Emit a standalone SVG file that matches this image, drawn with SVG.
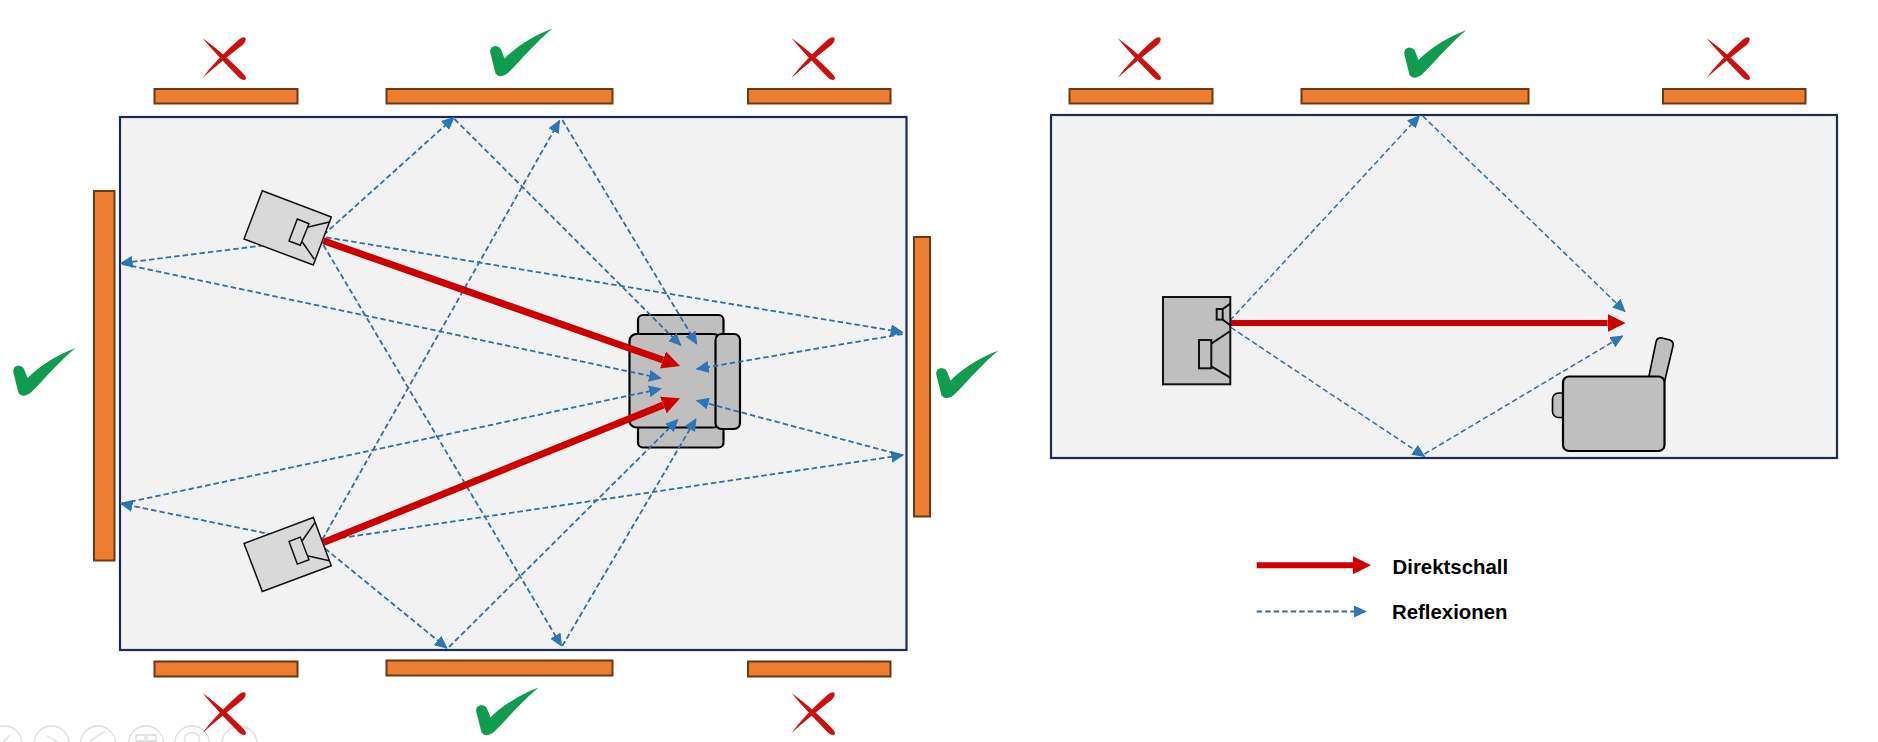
<svg xmlns="http://www.w3.org/2000/svg" xmlns:xlink="http://www.w3.org/1999/xlink" width="1878" height="742" viewBox="0 0 1878 742">
<style>
.room{fill:#F2F2F2;stroke:#1B2D55;stroke-width:2.2}
.panel{fill:#ED7D31;stroke:#6B3A14;stroke-width:2}
.cab{fill:#D9D9D9;stroke:#111;stroke-width:1.5;stroke-linejoin:miter}
.cab2{fill:#BFBFBF;stroke:#111;stroke-width:2}
.ln{fill:none;stroke:#111;stroke-width:1.5}
.ln2{fill:none;stroke:#111;stroke-width:2}
.seat{fill:#BFBFBF;stroke:#000;stroke-width:2.2}
.red{stroke:#CC0000;stroke-width:6;fill:none;marker-end:url(#redHead)}
.red.wide{stroke-width:7}
.blue{stroke:#2F6EAC;stroke-width:1.8;stroke-dasharray:5.5 3;fill:none;marker-end:url(#blueHead)}
.blue.fine{stroke-width:1.5}
.lbl{font-family:"Liberation Sans",Arial,sans-serif;font-weight:700;font-size:20.4px;fill:#000}
.tb{fill:none;stroke:#DCDCDC;stroke-width:1.3}
</style>
<defs>
<marker id="redHead" markerUnits="userSpaceOnUse" viewBox="0 0 18 18" refX="0" refY="9" markerWidth="18" markerHeight="18" orient="auto"><path d="M0 0L18 9L0 18z" fill="#CC0000"/></marker>
<marker id="blueHead" markerUnits="userSpaceOnUse" viewBox="0 0 13 12" refX="12" refY="6" markerWidth="13" markerHeight="12" orient="auto"><path d="M0 0L13 6L0 12z" fill="#2E75B6"/></marker>
<g id="cross" fill="#CC0F0F">
<path d="M0,2C14,12 30,26 42,39Q45,43 42,44Q38,44 34,39C22,27 10,14 0,2Z"/>
<path d="M0,42C8,31 22,16 37,3Q41,0 43,2Q44,5 40,9C26,20 12,31 0,42Z"/>
</g>
<path id="check" fill="#109C4F" d="M62,0C46,6 28,16 14,30C12,25 11,21 9,19Q5,16 1,19Q-1,22 0,25L5,45Q8,49 13,47Q16,46 18,44C32,30 45,14 62,0Z"/>
</defs>
<rect width="1878" height="742" fill="#FFFFFF"/>
<g id="toolbar">
<circle class="tb" cx="4.5" cy="743.5" r="17.5"/><circle class="tb" cx="51.5" cy="743.5" r="17.5"/><circle class="tb" cx="98" cy="743.5" r="17.5"/><circle class="tb" cx="146" cy="743.5" r="17.5"/><circle class="tb" cx="192" cy="743.5" r="17.5"/><circle class="tb" cx="239.5" cy="743.5" r="17.5"/>
<path class="tb" d="M10,735L3,742M47,736L58,742M90,741L105,731M136,735h9v6h-9zM147,735h9v6h-9zM139,742h16M185,742v-6q7,-7 14,0v6"/>
</g>
<g id="room-left"><rect class="room" x="120" y="117" width="786.5" height="533"/></g>
<g id="room-right"><rect class="room" x="1051" y="115" width="786" height="343"/></g>
<g id="panels">
<rect class="panel" x="154.5" y="89" width="143" height="14.5"/>
<rect class="panel" x="386.5" y="89" width="226" height="14.5"/>
<rect class="panel" x="748" y="89" width="142.5" height="14.5"/>
<rect class="panel" x="94" y="191" width="20.5" height="369.5"/>
<rect class="panel" x="914" y="237" width="16" height="279.5"/>
<rect class="panel" x="154.5" y="661.5" width="143" height="15"/>
<rect class="panel" x="386.5" y="660.5" width="226" height="15"/>
<rect class="panel" x="748" y="661.5" width="142.5" height="15"/>
<rect class="panel" x="1069.5" y="89" width="143" height="14.5"/>
<rect class="panel" x="1301.5" y="89" width="227" height="14.5"/>
<rect class="panel" x="1663" y="89" width="142.5" height="14.5"/>
</g>
<g id="marks">
<use href="#cross" x="202.5" y="36"/><use href="#check" x="490.5" y="28.5"/><use href="#cross" x="791.5" y="36"/>
<use href="#check" x="13.5" y="348"/><use href="#check" x="936.5" y="350.5"/>
<use href="#cross" x="202.5" y="691"/><use href="#check" x="476.5" y="687.5"/><use href="#cross" x="791.5" y="691"/>
<use href="#cross" x="1117.5" y="36"/><use href="#check" x="1404.5" y="30"/><use href="#cross" x="1706.5" y="36"/>
</g>
<g id="chair-left">
<rect class="seat" x="638" y="315" width="85.5" height="22" rx="5"/>
<rect class="seat" x="638" y="425" width="85.5" height="22.5" rx="5"/>
<rect class="seat" x="629.5" y="334" width="91" height="93.5" rx="7"/>
<rect class="seat" x="715.5" y="334" width="24.5" height="95" rx="6"/>
</g>
<g id="chair-right">
<path class="seat" style="stroke-width:1.6" d="M1648,381L1656,342Q1657,337 1662,338L1670,340Q1674,342 1673,346L1664,384Z"/>
<rect class="seat" style="stroke-width:1.6" x="1552.5" y="393" width="16" height="24.5" rx="6"/>
<rect class="seat" x="1563" y="376.5" width="101.5" height="74.5" rx="6"/>
</g>
<g id="connectors">
<line class="blue" x1="323.4" y1="235" x2="454" y2="117.5"/>
<line class="blue" x1="454.5" y1="119" x2="680.7" y2="345.3"/>
<line class="blue" x1="323.4" y1="245" x2="561.5" y2="646"/>
<line class="blue" x1="325" y1="548.5" x2="446.8" y2="648"/>
<line class="blue" x1="449" y1="647" x2="678" y2="419.5"/>
<line class="blue" x1="562.3" y1="646" x2="696" y2="418.8"/>
<line class="blue" x1="322.3" y1="539.5" x2="559.5" y2="120.7"/>
<line class="blue" x1="562.3" y1="120" x2="696.7" y2="344"/>
<line class="blue" x1="323" y1="238" x2="120.6" y2="263.3"/>
<line class="blue" x1="122.6" y1="264" x2="661" y2="378.3"/>
<line class="blue" x1="326" y1="237.3" x2="902.7" y2="332.3"/>
<line class="blue" x1="902.7" y1="334" x2="696.7" y2="369"/>
<line class="blue" x1="323" y1="545" x2="120.6" y2="503.5"/>
<line class="blue" x1="122" y1="503.5" x2="661" y2="388.8"/>
<line class="blue" x1="324" y1="540.5" x2="903.3" y2="455"/>
<line class="blue" x1="903" y1="455.5" x2="696.7" y2="400.5"/>
<line class="blue fine" x1="1230" y1="320.5" x2="1419.5" y2="115.7"/>
<line class="blue fine" x1="1422.7" y1="116" x2="1625" y2="311.5"/>
<line class="blue fine" x1="1231" y1="327.5" x2="1424.5" y2="456.5"/>
<line class="blue fine" x1="1424.5" y1="454" x2="1622.6" y2="336"/>
<line class="red wide" x1="323.4" y1="240.7" x2="663" y2="360"/>
<line class="red wide" x1="323.4" y1="542.5" x2="663.3" y2="405"/>
<line class="red" x1="1230" y1="323" x2="1607.6" y2="323"/>
</g>
<g id="speaker-top">
<path class="cab" d="M262.3,190.7L331.3,217L313.3,265L244,239Z"/>
<path class="cab" d="M297.3,219L309,223.7L300.3,245.3L289,241Z"/>
<path class="ln" d="M307.3,227.3L330.3,221.7M302.3,242L314.3,259.3"/>
</g>
<g id="speaker-bottom">
<path class="cab" d="M244,543.5L313.3,517.5L331.3,565.8L262.3,591.5Z"/>
<path class="cab" d="M289,541.5L300.3,537.1L309,559.8L297.3,564.1Z"/>
<path class="ln" d="M302.3,540.8L314.7,522.8M307.3,555.8L329.3,560.8"/>
</g>
<g id="speaker-right">
<rect class="cab2" x="1163" y="297" width="67.3" height="87.3"/>
<rect class="cab2" x="1216.7" y="309" width="6" height="10.6"/>
<rect class="cab2" x="1199" y="340" width="12.3" height="28.3"/>
<path class="ln2" d="M1222.7,309L1230.3,303.6M1222.7,319.6L1230.3,325.3M1211.3,343.6L1230.3,331M1211.3,366.3L1230.3,377.6"/>
</g>
<g id="legend">
<line class="red" x1="1256.7" y1="565.2" x2="1353" y2="565.2"/>
<text class="lbl" x="1392.5" y="573.5">Direktschall</text>
<line class="blue" x1="1256.7" y1="611.5" x2="1366" y2="611.5"/>
<text class="lbl" x="1392" y="619">Reflexionen</text>
</g>
</svg>
